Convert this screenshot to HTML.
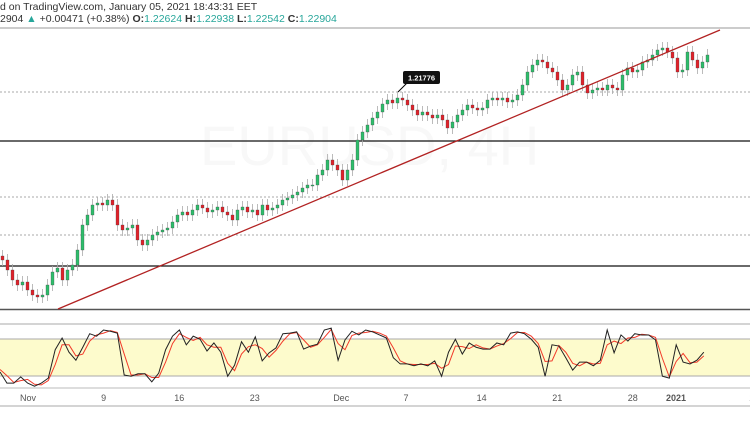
<!DOCTYPE html>
<html><head><meta charset="utf-8"><style>
body{margin:0;background:#fff;width:750px;height:430px;overflow:hidden;font-family:"Liberation Sans",sans-serif}
svg{display:block}
.t{fill:#555;font-size:9px}
</style></head><body>
<svg width="750" height="430">
<text x="0" y="10" font-size="10.5" fill="#333">d on TradingView.com, January 05, 2021 18:43:31 EET</text>
<text x="0" y="22" font-size="10.5" fill="#333">2904 <tspan fill="#26a69a">▲</tspan> +0.00471 (+0.38%) <tspan font-weight="bold">O:</tspan><tspan fill="#26a69a">1.22624</tspan> <tspan font-weight="bold">H:</tspan><tspan fill="#26a69a">1.22938</tspan> <tspan font-weight="bold">L:</tspan><tspan fill="#26a69a">1.22542</tspan> <tspan font-weight="bold">C:</tspan><tspan fill="#26a69a">1.22904</tspan></text>
<line x1="0" y1="28" x2="750" y2="28" stroke="#999"/>
<text x="200" y="165" font-size="56" fill="#f8f8f8">EURUSD, 4H</text>
<g>
<line x1="0" y1="92" x2="750" y2="92" stroke="#aaa" stroke-dasharray="2,2"/>
<line x1="0" y1="197" x2="750" y2="197" stroke="#aaa" stroke-dasharray="2,2"/>
<line x1="0" y1="235" x2="750" y2="235" stroke="#aaa" stroke-dasharray="2,2"/>
<line x1="0" y1="141" x2="750" y2="141" stroke="#111" stroke-width="1.2"/>
<line x1="0" y1="266" x2="750" y2="266" stroke="#111" stroke-width="1.2"/>
<line x1="0" y1="309.5" x2="750" y2="309.5" stroke="#555" stroke-width="1.5"/>
</g>
<g id="candles"></g>
<line x1="58" y1="309" x2="720" y2="30" stroke="#b22222" stroke-width="1.3"/>
<g>
<line x1="398" y1="92" x2="408" y2="82" stroke="#000"/>
<rect x="403" y="71" width="37" height="13" rx="2" fill="#111"/>
<text x="421.5" y="80.5" font-size="7.5" fill="#fff" text-anchor="middle" font-weight="bold">1.21776</text>
</g>
<line x1="0" y1="324" x2="750" y2="324" stroke="#aaa"/>
<rect x="0" y="339" width="750" height="37" fill="#fdfbcc"/>
<line x1="0" y1="339" x2="750" y2="339" stroke="#aaa"/>
<line x1="0" y1="376" x2="750" y2="376" stroke="#aaa"/>
<line x1="0" y1="388" x2="750" y2="388" stroke="#bbb"/>
<g id="stoch"></g>
<line x1="0" y1="406" x2="750" y2="406" stroke="#aaa"/>
<g id="xaxis"></g>
</svg>
<script>
const closes=[1.1980,1.1960,1.1940,1.1930,1.1936,1.1920,1.1910,1.1906,1.1910,1.1930,1.1956,1.1964,1.1940,1.1960,1.1970,1.2000,1.2050,1.2070,1.2090,1.2094,1.2090,1.2100,1.2090,1.2050,1.2040,1.2044,1.2050,1.2020,1.2010,1.2020,1.2030,1.2036,1.2040,1.2044,1.2056,1.2070,1.2076,1.2070,1.2080,1.2090,1.2084,1.2076,1.2080,1.2086,1.2076,1.2070,1.2060,1.2080,1.2086,1.2076,1.2080,1.2070,1.2090,1.2080,1.2084,1.2090,1.2100,1.2104,1.2110,1.2116,1.2124,1.2130,1.2130,1.2150,1.2160,1.2180,1.2170,1.2160,1.2140,1.2160,1.2180,1.2220,1.2236,1.2250,1.2264,1.2276,1.2292,1.2300,1.2294,1.2304,1.2300,1.2290,1.2280,1.2270,1.2276,1.2270,1.2264,1.2270,1.2260,1.2244,1.2256,1.2270,1.2280,1.2290,1.2284,1.2280,1.2284,1.2300,1.2304,1.2300,1.2304,1.2296,1.2300,1.2310,1.2330,1.2356,1.2370,1.2380,1.2376,1.2364,1.2356,1.2340,1.2320,1.2330,1.2350,1.2356,1.2330,1.2314,1.2320,1.2324,1.2320,1.2330,1.2324,1.2320,1.2350,1.2364,1.2356,1.2360,1.2376,1.2380,1.2390,1.2400,1.2404,1.2396,1.2384,1.2356,1.2360,1.2396,1.2380,1.2364,1.2376,1.2390];
const stochK=[26,8,8,18,8,3,8,16,62,81,58,45,66,88,84,94,92,89,21,19,23,23,10,24,62,84,94,70,84,79,60,73,58,19,37,75,58,83,44,57,65,88,89,91,63,68,71,94,97,45,78,92,86,94,91,86,81,49,39,39,36,39,36,44,19,58,79,55,73,66,63,63,73,70,89,91,88,79,66,19,70,68,49,29,42,42,36,45,94,57,86,76,88,86,86,78,19,16,70,42,39,45,58];
const stochD=[30,20,9,12,14,6,5,12,38,70,70,52,55,76,86,89,93,90,55,21,21,23,17,17,42,72,88,82,77,82,70,66,66,40,28,55,67,70,64,50,61,76,88,90,78,66,70,82,95,72,62,85,89,90,92,89,84,65,44,39,38,38,38,40,32,38,68,67,64,70,65,63,68,72,80,90,90,84,72,43,44,69,58,40,36,42,39,40,70,76,72,81,82,87,86,82,48,18,43,56,41,42,52];
const dayLabels=["Nov","9","16","23","Dec","7","14","21","28","2021","1"];
const dayPos=[0,7,14,21,29,35,42,49,56,60,67];
const NS="http://www.w3.org/2000/svg";
const yP=p=>(1.25-p)*5000;
const xC=i=>1+i*5;
const yS=v=>388-v*0.617;
const xS=i=>i*6.9;
const xD=d=>28+d*10.8;
const cg=document.getElementById('candles');
for(let i=0;i<closes.length;i++){
  const o=i?closes[i-1]:closes[0]+0.0008,c=closes[i];
  const up=c>=o,x=xC(i);
  const w=document.createElementNS(NS,'line');
  
  
  w.setAttribute('x1',x+1.5);w.setAttribute('x2',x+1.5);
  w.setAttribute('y1',yP(Math.max(o,c)+0.0012));w.setAttribute('y2',yP(Math.min(o,c)-0.0012));
  w.setAttribute('stroke','#aaa');w.setAttribute('stroke-width','0.8');
  cg.appendChild(w);
  const r=document.createElementNS(NS,'rect');
  
  
  const t=yP(Math.max(o,c)),b=yP(Math.min(o,c));
  r.setAttribute('x',x);r.setAttribute('y',t);r.setAttribute('width',3);r.setAttribute('height',Math.max(1,b-t));
  r.setAttribute('fill',up?'#2ebd6b':'#e0222a');r.setAttribute('stroke','#444');r.setAttribute('stroke-width','0.3');
  cg.appendChild(r);
}
const sg=document.getElementById('stoch');
function line(arr,col,name){
  const p=document.createElementNS(NS,'polyline');
  
  
  p.setAttribute('points',arr.map((v,i)=>xS(i)+','+yS(v)).join(' '));
  p.setAttribute('fill','none');p.setAttribute('stroke',col);p.setAttribute('stroke-width','1');
  sg.appendChild(p);
}
line(stochD,'#f23a2a','stoch-d-line');
line(stochK,'#222','stoch-k-line');
const xg=document.getElementById('xaxis');
dayLabels.forEach((l,i)=>{
  const t=document.createElementNS(NS,'text');
  
  
  t.setAttribute('x',xD(dayPos[i]));t.setAttribute('y',401);
  t.setAttribute('text-anchor','middle');t.setAttribute('class','t');
  if(l==='2021'){t.setAttribute('font-weight','bold');t.setAttribute('fill','#333');}
  t.textContent=l;xg.appendChild(t);
});
</script>
</body></html>
